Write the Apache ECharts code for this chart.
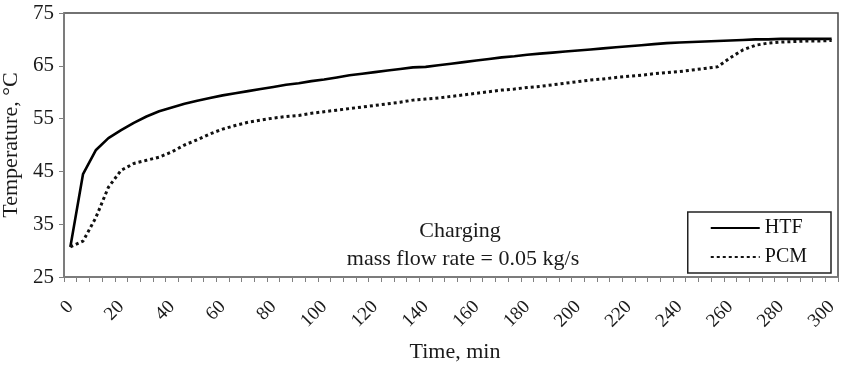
<!DOCTYPE html>
<html>
<head>
<meta charset="utf-8">
<script src="https://cdn.jsdelivr.net/npm/echarts@6/dist/echarts.min.js"></script>
<style>html,body{margin:0;padding:0;background:#fff}#c{width:847px;height:365px}</style>
</head>
<body>
<div id="c"></div>
<script>
var times = [0,5,10,15,20,25,30,35,40,45,50,55,60,65,70,75,80,85,90,95,100,105,110,115,120,125,130,135,140,145,150,155,160,165,170,175,180,185,190,195,200,205,210,215,220,225,230,235,240,245,250,255,260,265,270,275,280,285,290,295,300];
var htf = [30.7,44.5,49.0,51.3,52.8,54.2,55.4,56.4,57.1,57.8,58.4,58.9,59.4,59.8,60.2,60.6,61.0,61.4,61.7,62.1,62.4,62.8,63.2,63.5,63.8,64.1,64.4,64.7,64.8,65.1,65.4,65.7,66.0,66.3,66.6,66.8,67.1,67.3,67.5,67.7,67.9,68.1,68.3,68.5,68.7,68.9,69.1,69.3,69.4,69.5,69.6,69.7,69.8,69.9,70.0,70.0,70.1,70.1,70.1,70.1,70.1];
var pcm = [30.7,31.8,36.2,42.0,45.2,46.5,47.1,47.7,48.7,50.0,51.0,52.1,53.0,53.7,54.3,54.7,55.1,55.4,55.6,56.0,56.3,56.6,56.9,57.2,57.5,57.8,58.1,58.5,58.7,58.9,59.2,59.5,59.8,60.1,60.4,60.6,60.9,61.1,61.4,61.7,62.0,62.3,62.5,62.8,63.0,63.2,63.5,63.7,63.9,64.2,64.5,64.8,66.5,68.0,68.9,69.3,69.5,69.6,69.7,69.7,69.8];
var yTicks = {min: 25, max: 75, interval: 10};
var seriesNames = ['HTF', 'PCM'];
var noteLines = ['Charging', 'mass flow rate = 0.05 kg/s'];

var FONT = '"Liberation Serif", "Times New Roman", serif';
var chart = echarts.init(document.getElementById('c'), null, {renderer: 'canvas'});
chart.setOption({
  animation: false,
  backgroundColor: '#fff',
  grid: {left: 64, right: 9, top: 13, bottom: 88, show: true, borderColor: '#444', borderWidth: 1.5,
         containLabel: false, outerBoundsMode: 'none'},
  xAxis: {
    type: 'category',
    data: times,
    boundaryGap: true,
    name: 'Time, min',
    nameLocation: 'middle',
    nameGap: 64,
    nameTextStyle: {fontFamily: FONT, fontSize: 22, color: '#1a1a1a', padding: [0, 0, 0, 8]},
    axisLine: {lineStyle: {color: '#808080', width: 1.5}},
    axisTick: {show: true, interval: 0, length: 5, lineStyle: {color: '#808080'}},
    axisLabel: {interval: 3, rotate: 45, fontFamily: FONT, fontSize: 19, color: '#1a1a1a', margin: 27},
    splitLine: {show: false}
  },
  yAxis: {
    type: 'value',
    min: yTicks.min, max: yTicks.max, interval: yTicks.interval,
    name: 'Temperature, °C',
    nameLocation: 'middle',
    nameGap: 38,
    nameTextStyle: {fontFamily: FONT, fontSize: 22, color: '#1a1a1a'},
    axisLine: {show: true, lineStyle: {color: '#808080', width: 1.5}},
    axisTick: {show: true, length: 5, lineStyle: {color: '#808080'}},
    axisLabel: {fontFamily: FONT, fontSize: 21, color: '#1a1a1a', margin: 10},
    splitLine: {show: false}
  },
  legend: {
    orient: 'vertical',
    right: 16, top: 212,
    data: seriesNames,
    itemWidth: 49, itemHeight: 10, itemGap: 9,
    padding: [6, 24, 6, 22],
    borderColor: '#222', borderWidth: 1.5,
    itemStyle: {opacity: 0},
    textStyle: {fontFamily: FONT, fontSize: 20, color: '#111'}
  },
  graphic: [
    {type: 'text', x: 460, y: 220, style: {text: noteLines[0], font: '22px ' + FONT, fill: '#1a1a1a', textAlign: 'center'}},
    {type: 'text', x: 463, y: 248, style: {text: noteLines[1], font: '22px ' + FONT, fill: '#1a1a1a', textAlign: 'center'}}
  ],
  series: [
    {name: seriesNames[0], type: 'line', data: htf, symbol: 'none', smooth: false,
     lineStyle: {color: '#000', width: 2.6, type: 'solid'}, itemStyle: {color: '#000'}},
    {name: seriesNames[1], type: 'line', data: pcm, symbol: 'none', smooth: false,
     lineStyle: {color: '#111', width: 3, type: [3, 3]}, itemStyle: {color: '#111'}}
  ]
});
</script>
</body>
</html>
